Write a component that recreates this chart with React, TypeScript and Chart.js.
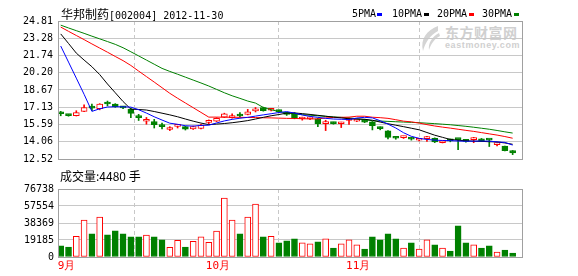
import { useEffect, useRef } from 'react';
import { Chart, registerables } from 'chart.js';

Chart.register(...registerables);

// ---- data (59 trading days, 2012-09 .. 2012-11-30) ----
const monthStarts = [0, 19, 37];
const monthLabels = ['9月', '10月', '11月'];

const openP = [
  16.65, 16.42, 16.37, 16.76, 17.12, 17.0, 17.47, 17.4, 17.14, 16.97,
  16.3, 15.88, 15.86, 15.52, 15.15, 15.43, 15.4, 15.19, 15.25, 15.78,
  15.88, 16.25, 16.2, 16.4, 16.48, 16.8, 17.11, 16.86, 16.79, 16.56,
  16.6, 16.08, 16.09, 16.1, 15.67, 15.72, 15.66, 15.95, 15.9, 16.0,
  15.82, 15.28, 15.03, 14.43, 14.42, 14.35, 14.19, 14.34, 14.37, 13.97,
  14.19, 14.28, 14.13, 14.24, 14.32, 14.25, 13.8, 13.66, 13.26,
];
const highP = [
  16.76, 16.48, 16.82, 17.34, 17.4, 17.45, 17.68, 17.45, 17.2, 17.05,
  16.5, 16.22, 16.05, 15.71, 15.4, 15.56, 15.45, 15.45, 15.6, 16.0,
  16.2, 16.6, 16.54, 16.65, 16.94, 17.11, 17.14, 16.98, 16.88, 16.65,
  16.65, 16.25, 16.22, 16.14, 15.97, 15.8, 15.8, 16.17, 16.02, 16.06,
  15.86, 15.38, 15.05, 14.48, 14.55, 14.45, 14.28, 14.54, 14.4, 14.13,
  14.3, 14.3, 14.2, 14.45, 14.35, 14.26, 13.97, 13.68, 13.28,
];
const lowP = [
  16.37, 16.33, 16.35, 16.74, 16.82, 16.9, 17.25, 17.12, 17.0, 16.2,
  15.95, 15.62, 15.28, 15.2, 15.05, 15.28, 15.1, 15.15, 15.2, 15.65,
  15.85, 16.2, 16.15, 16.25, 16.45, 16.71, 16.78, 16.8, 16.65, 16.4,
  16.1, 15.98, 16.02, 15.4, 15.05, 15.62, 15.32, 15.6, 15.85, 15.76,
  15.11, 15.12, 14.3, 14.28, 14.35, 14.2, 14.12, 14.08, 13.98, 13.95,
  14.05, 13.34, 14.02, 13.97, 14.08, 13.63, 13.68, 13.24, 12.91,
];
const closeP = [
  16.55, 16.38, 16.65, 17.11, 17.05, 17.4, 17.42, 17.17, 17.08, 16.59,
  16.2, 15.93, 15.57, 15.4, 15.19, 15.48, 15.17, 15.4, 15.54, 15.82,
  16.14, 16.54, 16.37, 16.35, 16.71, 16.84, 16.82, 16.9, 16.74, 16.5,
  16.14, 16.12, 16.12, 15.67, 15.71, 15.67, 15.7, 15.99, 15.97, 15.8,
  15.48, 15.22, 14.45, 14.37, 14.46, 14.29, 14.22, 14.39, 14.03, 14.11,
  14.14, 14.24, 14.09, 14.28, 14.11, 14.2, 13.85, 13.26, 13.06,
];
const volume = [
  12470, 11335, 23460, 41600, 26070, 45000, 24940, 29470, 26070, 22670,
  22670, 24600, 22670, 19270, 10990, 18930, 11335, 17800, 22670, 16660,
  29130, 66540, 41600, 26070, 45000, 59740, 22670, 23460, 15870, 18140,
  20400, 15870, 14740, 17000, 20400, 10200, 14740, 19270, 13600, 9070,
  22670, 19270, 26070, 20400, 10200, 15870, 9070, 19270, 13600, 10200,
  6800, 35140, 15870, 13600, 10200, 12470, 5670, 7930, 4480,
];
const ma5 = [
  22.58, 21.15, 19.72, 18.28, 16.76, 16.99, 17.15, 17.17, 17.17, 17.14,
  16.91, 16.61, 16.28, 15.99, 15.71, 15.61, 15.48, 15.45, 15.51, 15.53,
  15.73, 15.91, 16.05, 16.15, 16.23, 16.34, 16.45, 16.55, 16.66, 16.74,
  16.61, 16.44, 16.31, 16.23, 16.14, 16.08, 16.06, 16.03, 16.17, 16.23,
  16.18, 15.93, 15.63, 15.28, 14.86, 14.54, 14.36, 14.26, 14.2, 14.17,
  14.15, 14.12, 14.1, 14.11, 14.12, 14.11, 14.04, 14.0, 13.76,
];
const ma10 = [
  23.66, 22.81, 21.95, 21.33, 20.74, 20.04, 19.2, 18.42, 17.64, 16.96,
  16.93, 16.88, 16.75, 16.6, 16.45, 16.28, 16.08, 15.89, 15.72, 15.58,
  15.63, 15.68, 15.75, 15.84, 15.94, 16.08, 16.23, 16.37, 16.48, 16.61,
  16.62, 16.56, 16.49, 16.41, 16.33, 16.25, 16.18, 16.1, 16.08, 16.06,
  15.97, 15.81, 15.66, 15.53, 15.4, 15.26, 15.12, 14.88, 14.64, 14.45,
  14.26, 14.19, 14.14, 14.11, 14.09, 14.06, 14.04, 13.95, 13.83,
];
const ma20 = [
  24.27, 23.89, 23.52, 23.15, 22.77, 22.4, 22.03, 21.65, 21.28, 20.85,
  20.35, 19.86, 19.37, 18.87, 18.37, 17.93, 17.51, 17.09, 16.67, 16.25,
  16.25, 16.24, 16.24, 16.23, 16.22, 16.21, 16.19, 16.18, 16.16, 16.14,
  16.13, 16.11, 16.09, 16.09, 16.18, 16.22, 16.23, 16.25, 16.33, 16.33,
  16.24, 16.2, 16.14, 16.02, 15.89, 15.83, 15.72, 15.58, 15.46, 15.36,
  15.27, 15.17, 15.07, 14.98, 14.87, 14.76, 14.65, 14.52, 14.37,
];
const ma30 = [
  24.44, 24.19, 23.95, 23.71, 23.46, 23.22, 22.98, 22.73, 22.43, 22.07,
  21.7, 21.33, 20.96, 20.59, 20.32, 20.07, 19.81, 19.55, 19.29, 19.02,
  18.72, 18.42, 18.15, 17.92, 17.68, 17.5, 17.11, 16.91, 16.75, 16.6,
  16.52, 16.47, 16.42, 16.37, 16.32, 16.27, 16.23, 16.18, 16.11, 16.02,
  15.93, 15.9, 15.87, 15.84, 15.81, 15.78, 15.75, 15.71, 15.67, 15.62,
  15.57, 15.5, 15.43, 15.35, 15.26, 15.17, 15.06, 14.94, 14.83,
];
const priceTicks = [12.52, 14.06, 15.59, 17.13, 18.67, 20.2, 21.74, 23.28, 24.81];
const priceTickLabels = ['12.52', '14.06', '15.59', '17.13', '18.67', '20.20', '21.74', '23.28', '24.81'];
const volumeTicks = [0, 19185, 38369, 57554, 76738];
const volumeTickLabels = ['0', '19185', '38369', '57554', '76738'];
const lastVolumeText = '成交量:4480 手';

// ---- styles ----
const UP = '#ff0000';
const DOWN = '#008000';
const GRID = '#c8c8c8';
const FRAME = '#a0a0a0';
const MONO = '"DejaVu Sans Mono", monospace';
const CJK = '"Noto Sans CJK SC", sans-serif';

const framePlugin = {
  id: 'frame',
  afterDraw(chart: any) {
    const { ctx, chartArea: a } = chart;
    ctx.save();
    ctx.strokeStyle = FRAME;
    ctx.lineWidth = 1;
    ctx.setLineDash([]);
    ctx.strokeRect(Math.round(a.left) + 0.5, Math.round(a.top) + 0.5, Math.round(a.right - a.left), Math.round(a.bottom - a.top));
    ctx.restore();
  },
};

function xScale(showLabels: boolean) {
  return {
    type: 'linear',
    min: -0.35,
    max: 59.2,
    offset: false,
    afterBuildTicks: (s: any) => {
      s.ticks = monthStarts.map((v) => ({ value: v }));
    },
    afterFit: (s: any) => {
      s.height = showLabels ? 19 : 0;
    },
    grid: { color: GRID, lineWidth: 1, drawTicks: false },
    border: { display: false, dash: [4, 3] },
    ticks: {
      display: showLabels,
      autoSkip: false,
      maxRotation: 0,
      align: 'start',
      labelOffset: -3,
      padding: 3,
      color: UP,
      font: { family: MONO, size: 11 },
      callback: (_v: any, i: number) => monthLabels[i],
    },
  };
}

export default function App() {
  const priceRef = useRef<HTMLCanvasElement>(null);
  const volRef = useRef<HTMLCanvasElement>(null);

  useEffect(() => {
    const isUp = closeP.map((c, i) => c >= openP[i]);
    const fill = isUp.map((u) => (u ? '#ffffff' : DOWN));
    const edge = isUp.map((u) => (u ? UP : DOWN));
    const days = openP.map((_, i) => i);
    const line = (vals: number[], color: string) => ({
      type: 'line',
      data: days.map((d) => ({ x: d, y: vals[d] })),
      borderColor: color,
      borderWidth: 1,
      pointRadius: 0,
      tension: 0,
      order: 0,
    });

    const priceChart = new Chart(priceRef.current as HTMLCanvasElement, {
      type: 'bar',
      data: {
        datasets: [
          line(ma5, '#0000ff'),
          line(ma10, '#000000'),
          line(ma20, UP),
          line(ma30, DOWN),
          {
            type: 'bar',
            data: days.map((d) => ({ x: d, y: [openP[d], closeP[d]] })),
            backgroundColor: fill,
            borderColor: edge,
            borderWidth: 1,
            borderSkipped: false,
            barThickness: 6,
            minBarLength: 2,
            grouped: false,
            order: 1,
          },
          {
            type: 'bar',
            data: days.map((d) => ({ x: d, y: [lowP[d], highP[d]] })),
            backgroundColor: edge,
            borderWidth: 0,
            barThickness: 1,
            grouped: false,
            order: 2,
          },
        ] as any,
      },
      options: {
        responsive: false,
        animation: false,
        devicePixelRatio: 1,
        events: [],
        layout: { padding: { left: 0, right: 56, top: 21, bottom: 5 } },
        plugins: { legend: { display: false }, tooltip: { enabled: false } },
        scales: {
          x: xScale(false) as any,
          y: {
            type: 'linear',
            min: 12.52,
            max: 24.81,
            afterBuildTicks: (s: any) => {
              s.ticks = priceTicks.map((v) => ({ value: v }));
            },
            afterFit: (s: any) => {
              s.width = 58;
            },
            grid: { color: GRID, drawTicks: false },
            border: { display: false },
            ticks: {
              autoSkip: false,
              padding: 5,
              color: '#000',
              font: { family: MONO, size: 10 },
              callback: (_v: any, i: number) => priceTickLabels[i],
            },
          },
        },
      },
      plugins: [framePlugin],
    });

    const volChart = new Chart(volRef.current as HTMLCanvasElement, {
      type: 'bar',
      data: {
        datasets: [
          {
            data: days.map((d) => ({ x: d, y: volume[d] })),
            backgroundColor: fill,
            borderColor: edge,
            borderWidth: 1,
            borderSkipped: false,
            barThickness: 6,
            grouped: false,
          },
        ] as any,
      },
      options: {
        responsive: false,
        animation: false,
        devicePixelRatio: 1,
        events: [],
        layout: { padding: { left: 0, right: 56, top: 19, bottom: 0 } },
        plugins: { legend: { display: false }, tooltip: { enabled: false } },
        scales: {
          x: xScale(true) as any,
          y: {
            type: 'linear',
            min: 0,
            max: 76738,
            afterBuildTicks: (s: any) => {
              s.ticks = volumeTicks.map((v) => ({ value: v }));
            },
            afterFit: (s: any) => {
              s.width = 58;
            },
            grid: { color: GRID, drawTicks: false },
            border: { display: false },
            ticks: {
              autoSkip: false,
              padding: 4,
              color: '#000',
              font: { family: MONO, size: 10 },
              callback: (_v: any, i: number) => volumeTickLabels[i],
            },
          },
        },
      },
      plugins: [framePlugin],
    });

    return () => {
      priceChart.destroy();
      volChart.destroy();
    };
  }, []);

  const legendItems = [
    { label: '5PMA', color: '#0000ff', left: 352, sq: 377 },
    { label: '10PMA', color: '#000000', left: 392, sq: 424 },
    { label: '20PMA', color: UP, left: 437, sq: 469 },
    { label: '30PMA', color: DOWN, left: 482, sq: 514 },
  ];

  return (
    <div style={{ position: 'absolute', left: 0, top: 0, width: 578, height: 276, background: '#fff', overflow: 'hidden' }}>
      {/* watermark */}
      <svg style={{ position: 'absolute', left: 418, top: 25 }} width={24} height={28}>
        <path d="M20 1 C9 5 2 14 5 26 C7 18 12 10 20 6 Z" fill="#d4d4d4" />
        <path d="M21 8 C14 12 10 18 11 25 C13 19 16 14 22 11 Z" fill="#d4d4d4" />
      </svg>
      <div style={{ position: 'absolute', left: 445, top: 24, fontFamily: CJK, fontSize: 14, fontWeight: 700, color: '#d0d0d0', lineHeight: '17px', letterSpacing: 0.5 }}>东方财富网</div>
      <div style={{ position: 'absolute', left: 445, top: 40, fontFamily: '"Liberation Sans", sans-serif', fontSize: 9, fontWeight: 700, color: '#d0d0d0', lineHeight: '10px', letterSpacing: 0.6 }}>eastmoney.com</div>

      <canvas ref={priceRef} width={578} height={170} style={{ position: 'absolute', left: 0, top: 0, width: 578, height: 170 }} />
      <canvas ref={volRef} width={578} height={106} style={{ position: 'absolute', left: 0, top: 170, width: 578, height: 106 }} />

      <div style={{ position: 'absolute', left: 61, top: 6, whiteSpace: 'pre', lineHeight: '16px', color: '#000' }}>
        <span style={{ fontFamily: CJK, fontSize: 12 }}>华邦制药</span>
        <span style={{ fontFamily: MONO, fontSize: 10 }}>[002004] 2012-11-30</span>
      </div>
      {legendItems.map((it) => (
        <div key={it.label}>
          <div style={{ position: 'absolute', left: it.left, top: 6, fontFamily: MONO, fontSize: 10, lineHeight: '16px', color: '#000', whiteSpace: 'pre' }}>{it.label}</div>
          <div style={{ position: 'absolute', left: it.sq, top: 13, width: 5, height: 3, background: it.color }} />
        </div>
      ))}
      <div style={{ position: 'absolute', left: 60, top: 168, whiteSpace: 'pre', lineHeight: '16px', color: '#000', fontFamily: CJK, fontSize: 12 }}>
        {lastVolumeText}
      </div>
    </div>
  );
}
